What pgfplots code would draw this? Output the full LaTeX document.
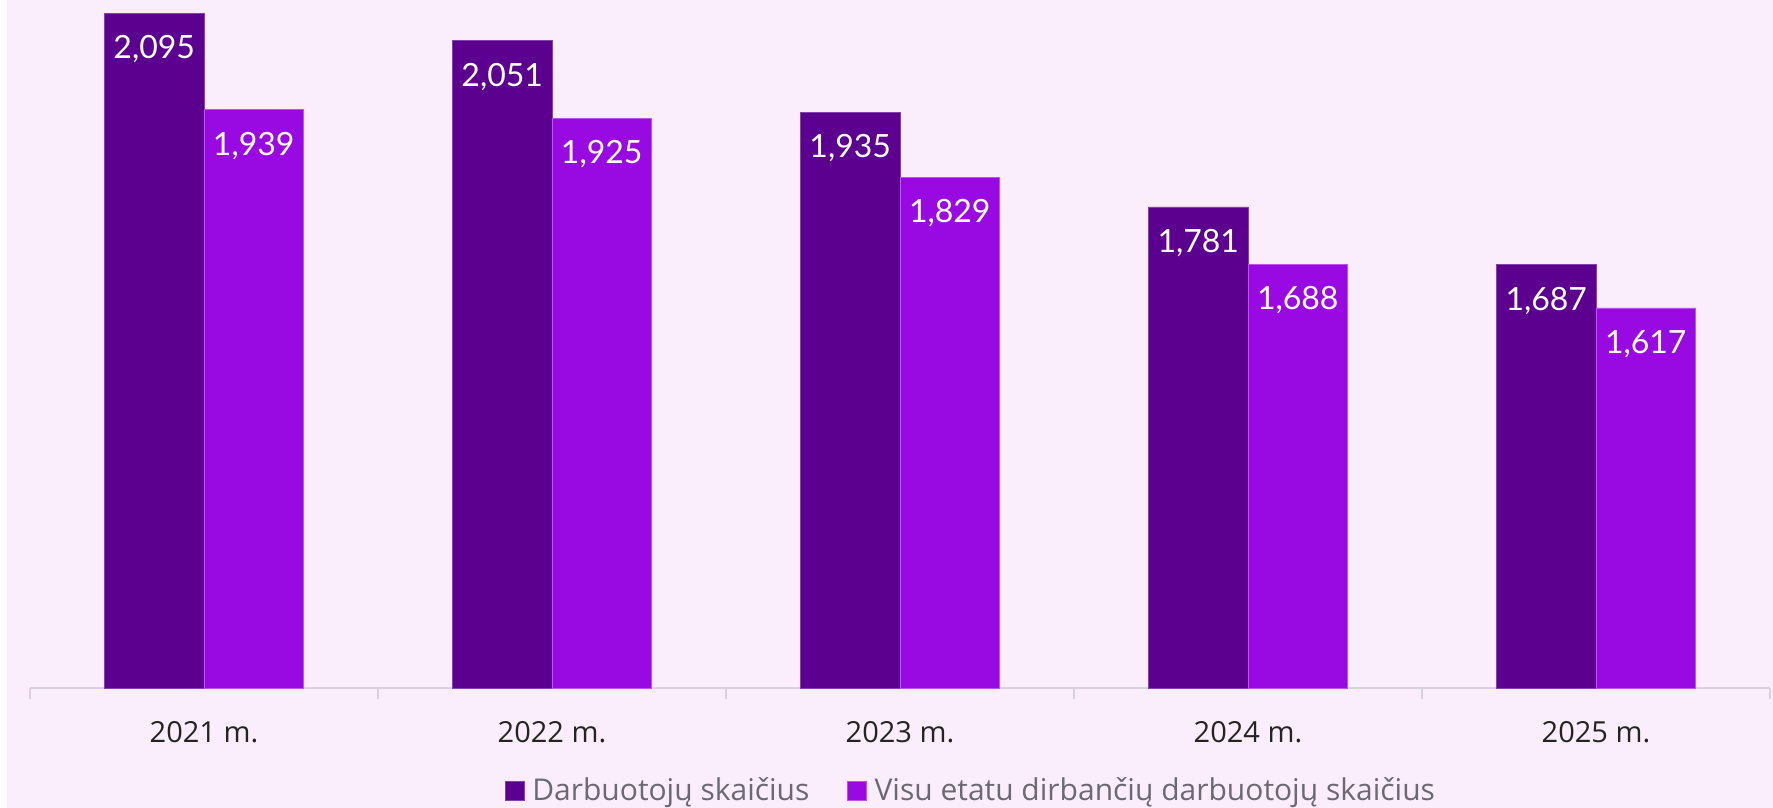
\documentclass[border=0pt]{standalone}
\usepackage{fontspec}
\setmainfont{Open Sans}
\newfontfamily\barfont{Lato}
\usepackage{pgfplots}
\pgfplotsset{compat=1.18}
\definecolor{bgpink}{HTML}{FAEEFC}
\definecolor{deeppurple}{HTML}{5B008F}
\definecolor{corepurple}{HTML}{990AE3}
\definecolor{axisgray}{HTML}{D8D2DE}
\definecolor{legendgray}{HTML}{6C6876}
\definecolor{ticktext}{HTML}{252423}

\begin{document}
\begin{tikzpicture}
\path[use as bounding box, fill=bgpink] (-15pt,-60pt) rectangle (871.5pt,344pt);
\fill[white] (-15pt,-60pt) rectangle (-11.5pt,344pt);
\begin{axis}[scale only axis, width=870pt, height=344pt,
  ybar=0pt, bar width=49.75pt,
  xmin=-0.5, xmax=4.5, ymin=1000, ymax=2117, enlargelimits=false, clip=false,
  axis x line*=bottom, axis y line=none,
  axis line style={draw=axisgray, line width=0.8pt},
  xtick={0,1,2,3,4}, xticklabels={2021 m.,2022 m.,2023 m.,2024 m.,2025 m.},
  major tick length=0pt,
  minor xtick={-0.5,0.5,1.5,2.5,3.5,4.5}, minor tick length=5.5pt, tick align=outside,
  minor tick style={draw=axisgray, line width=0.8pt},
  xticklabel style={font=\fontsize{14.5}{17}\selectfont, text=ticktext, anchor=center, yshift=-22pt},
  nodes near coords={\pgfmathprintnumber[assume math mode=true]{\pgfplotspointmeta}},
  every node near coord/.append style={font=\barfont\fontsize{16}{18}\selectfont, text=white, anchor=center, yshift=-18pt},
  legend columns=2,
  legend style={draw=none, fill=none, at={(0.5414,-0.1497)}, anchor=center,
    font=\fontsize{15}{17}\selectfont, text=legendgray,
    /tikz/every even column/.append style={column sep=17pt},
    /tikz/every odd column/.append style={column sep=2pt}},
  legend image code/.code={\fill[#1] (0pt,-4.6pt) rectangle (9.2pt,4.6pt);}
]
\addplot[fill=deeppurple, draw=deeppurple!75!white, line width=0.4pt] coordinates {(0,2095) (1,2051) (2,1935) (3,1781) (4,1687)};
\addplot[fill=corepurple, draw=corepurple!70!white, line width=0.4pt] coordinates {(0,1939) (1,1925) (2,1829) (3,1688) (4,1617)};
\legend{Darbuotojų skaičius, Visu etatu dirbančių darbuotojų skaičius}
\end{axis}
\end{tikzpicture}
\end{document}
